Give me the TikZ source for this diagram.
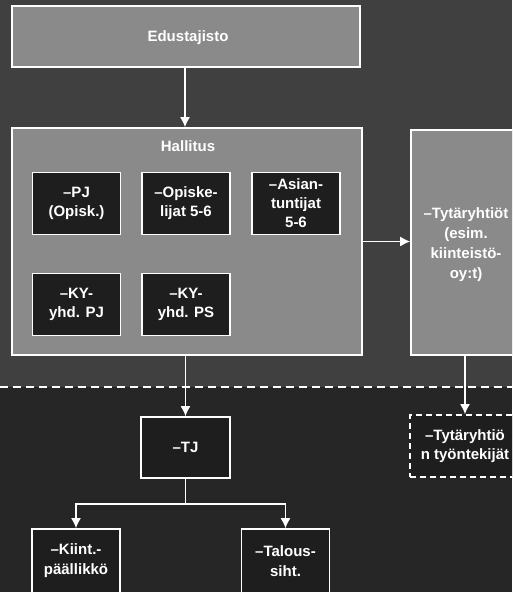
\documentclass[tikz,border=0pt]{standalone}
\usepackage{fontspec}
\setmainfont{Liberation Sans}
\usepackage{xcolor}
\usetikzlibrary{arrows.meta, positioning}

\definecolor{ylatausta}{HTML}{404040}
\definecolor{alatausta}{HTML}{262626}
\definecolor{paneeliharmaa}{HTML}{8A8A8A}
\definecolor{laatikkomusta}{HTML}{1E1E1E}

\tikzset{
    paneeli/.style={draw=white, line width=1.6pt, fill=paneeliharmaa},
    laatikko/.style={draw=white, line width=1.6pt, fill=laatikkomusta, text=white,
        minimum width=88pt, minimum height=62pt, align=center, inner sep=2pt,
        font=\fontsize{15}{19}\selectfont\bfseries},
    otsikko/.style={text=white, align=center, font=\fontsize{15}{20}\selectfont\bfseries},
    yhteys/.style={draw=white, line width=1.6pt}
}

\begin{document}
\begin{tikzpicture}[x=1pt, y=-1pt, >={Latex[width=10pt,length=10pt]}]
    % 1. Tausta
    \useasboundingbox (0,0) rectangle (512,592);
    \clip (0,0) rectangle (512,592);
    \fill[ylatausta] (0,0) rectangle (512,387);
    \fill[alatausta] (0,387) rectangle (512,592);
    \draw[white, line width=1.6pt, dash pattern=on 8pt off 5pt] (0,387) -- (512,387);

    % 2. Edustajisto ja hallitus
    \node[paneeli, minimum width=348pt, minimum height=61pt] (edus) at (186,36.5) {};
    \node[otsikko] (edusnimi) at (188,38) {Edustajisto};
    \node[paneeli, minimum width=350pt, minimum height=227pt] (hall) at (187,241.5) {};
    \node[otsikko] (hallnimi) at (188,146) {Hallitus};

    \node[laatikko] (pj) at (76.5,203.5) {–PJ\\(Opisk.)};
    \node[laatikko] (opisk) at (186,203.5) {–Opiske-\\lijat 5-6};
    \node[laatikko] (asian) at (296,203.5) {–Asian-\\tuntijat\\5-6};
    \node[laatikko] (kypj) at (76.5,304.5) {–KY-\\yhd. PJ};
    \node[laatikko] (kyps) at (186,304.5) {–KY-\\yhd. PS};

    % 3. Tytäryhtiöt
    \node[paneeli, minimum width=108pt, minimum height=225pt] (tyt) at (465,242.5) {};
    \node[otsikko] (tytnimi) at (466,245) {–Tytäryhtiöt\\(esim.\\kiinteistö-\\oy:t)};
    \node[laatikko, dashed, dash pattern=on 6pt off 4pt, minimum width=110pt] (tyo) at (465,446) {–Tytäryhtiö\\n työntekijät};

    % 4. Toimiva johto
    \node[laatikko, minimum width=89pt, minimum height=61pt] (tj) at (185.5,447.5) {–TJ};
    \node[laatikko, minimum height=70pt] (kiint) at (76,564) {};
    \node[otsikko] (kiintnimi) at (76,561) {–Kiint.-\\päällikkö};
    \node[laatikko, minimum height=70pt] (talous) at (285.5,564) {};
    \node[otsikko] (talousnimi) at (285.5,561) {–Talous-\\siht.};

    % 5. Yhteydet
    \draw[yhteys, ->] (edus.south -| 185,0) -- (hall.north -| 185,0);
    \draw[yhteys, ->] (hall.east) -- (hall.east -| tyt.west);
    \draw[yhteys, ->] (hall.south -| tj.north) -- (tj.north);
    \draw[yhteys, ->] (tyt.south) -- (tyo.north);
    \coordinate[below=25pt of tj.south] (haara);
    \draw[yhteys] (tj.south) -- (haara);
    \draw[yhteys, ->] (haara) -| (kiint.north);
    \draw[yhteys, ->] (haara) -| (talous.north);
\end{tikzpicture}
\end{document}
